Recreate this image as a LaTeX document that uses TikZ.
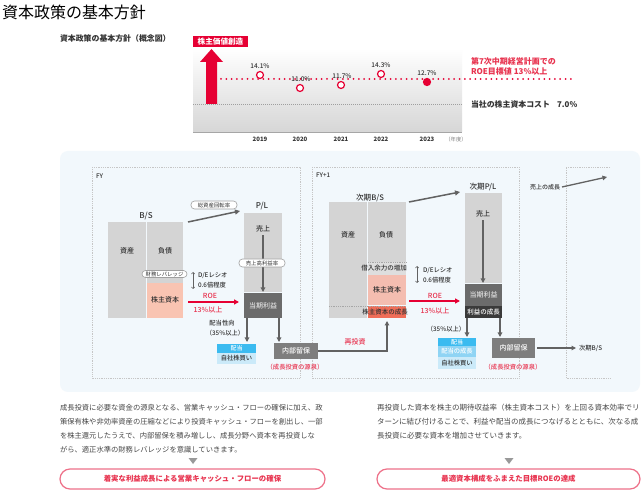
\documentclass[tikz,border=0pt]{standalone}
\usepackage{fontspec}
\setmainfont{Noto Sans CJK JP}
\newfontfamily\medfont{Noto Sans CJK JP Medium}
\usetikzlibrary{arrows.meta,calc}
\newcommand{\fsz}[1]{\fontsize{#1}{#1}\selectfont}
\definecolor{panel}{HTML}{F2F8FC}
\definecolor{bgray}{HTML}{D4D4D4}
\definecolor{lgray}{HTML}{DEDEDE}
\definecolor{dgray}{HTML}{6B6B6B}
\definecolor{mgray}{HTML}{7E7E7E}
\definecolor{blk}{HTML}{3A3A3A}
\definecolor{salmon}{HTML}{F9C4B2}
\definecolor{salmontwo}{HTML}{F4BDB0}
\definecolor{coral}{HTML}{EF6D58}
\definecolor{blueone}{HTML}{3BBBF0}
\definecolor{bluetwo}{HTML}{8FD4F4}
\definecolor{bluethree}{HTML}{CBEAF9}
\definecolor{redone}{HTML}{E60033}
\definecolor{redtxt}{HTML}{E8334F}
\definecolor{agray}{HTML}{626262}
\definecolor{txt}{HTML}{333333}
\definecolor{pinkb}{HTML}{EE7189}
\begin{document}
\begin{tikzpicture}[x=1pt,y=-1pt,
  every node/.style={inner sep=0pt,outer sep=0pt},
  blk/.style={rectangle,draw=none,minimum width=#1},
  tx/.style={font=\medfont\fsz{7},text=txt},
  sm/.style={font=\medfont\fsz{6.3},text=txt},
  pill/.style={draw=gray!75,fill=white,rounded corners=3.5pt,line width=0.6pt,font=\fsz{5.4},text=txt},
  garrow/.style={draw=agray,line width=1.4pt,-{Triangle[length=4.5pt,width=4.5pt]}},
  rarrow/.style={draw=redone,line width=1.3pt,-{Triangle[length=5pt,width=5pt]}},
  dearrow/.style={draw=agray,line width=0.6pt,{Straight Barb[length=1.6pt,width=3.2pt]}-{Straight Barb[length=1.6pt,width=3.2pt]}},
  dotbox/.style={draw=gray!45,line width=0.8pt,dash pattern=on 0.8pt off 1pt},
  dotsep/.style={draw=gray!70,line width=0.6pt,dash pattern=on 0.8pt off 1pt},
  pt/.style={circle,draw=redone,line width=1.2pt,fill=white,minimum size=7pt},
  pct/.style={font=\medfont\fsz{6.5},text=txt},
  yr/.style={font=\bfseries\fsz{6},text=txt},
  para/.style={anchor=west,font=\fsz{7.3},text=txt!90},
  redlbl/.style={font=\medfont\fsz{6.3},text=redtxt},
  outcome/.style={draw=pinkb,line width=1.2pt,fill=white,rounded corners=10pt,minimum width=265pt,minimum height=20pt,font=\bfseries\fsz{7.4},text=redtxt}
]
\useasboundingbox (0,0) rectangle (643,494);
\fill[white] (0,0) rectangle (643,494);

% ---------- title ----------
\node[anchor=west,font=\fsz{16},text=black] (title) at (2,12) {資本政策の基本方針};
\node[anchor=west,font=\bfseries\fsz{7.9},text=txt] (sub) at (60,39) {資本政策の基本方針（概念図）};

% ---------- chart ----------
\fill[top color=white,bottom color=gray!32] (193,48) rectangle (462,132);
\draw[gray!70,line width=0.8pt] (193,132) -- (462,132);
\draw[gray!75,line width=0.7pt,dash pattern=on 0.8pt off 1.2pt] (193,104) -- (462,104);
\draw[redone,line width=2pt,line cap=round,dash pattern=on 0pt off 5.3pt] (221,79) -- (575,79);
\fill[redone] (206,104) -- (206,62) -- (200,62) -- (211.5,49) -- (223,62) -- (217,62) -- (217,104) -- cycle;
\node[fill=redone,minimum width=55pt,minimum height=11pt,font=\bfseries\fsz{7.6},text=white] (value) at (220.5,41.5) {株主価値創造};

\node[pt] (p19) at (260,75) {};
\node[pt] (p20) at (300,88) {};
\node[pt] (p21) at (341,85) {};
\node[pt] (p22) at (381,74) {};
\node[pt,fill=redone] (p23) at (427,82) {};
\node[pct] (l19) at (260,66.5) {14.1\%};
\node[pct] (l20) at (301,79.5) {11.0\%};
\node[pct] (l21) at (342,76.5) {11.7\%};
\node[pct] (l22) at (381,65.5) {14.3\%};
\node[pct] (l23) at (427,73.5) {12.7\%};
\node[yr] (y19) at (260,139) {2019};
\node[yr] (y20) at (300,139) {2020};
\node[yr] (y21) at (341,139) {2021};
\node[yr] (y22) at (381,139) {2022};
\node[yr] (y23) at (427,139) {2023};
\node[font=\fsz{5.3},text=gray] (nendo) at (456,139) {（年度）};
\node[anchor=west,font=\bfseries\fsz{8},text=redtxt] (tgt1) at (471,61) {第7次中期経営計画での};
\node[anchor=west,font=\bfseries\fsz{8},text=redtxt] (tgt2) at (471,71.5) {ROE目標値 13\%以上};
\node[anchor=west,font=\bfseries\fsz{7.9},text=txt] (coe) at (471,104) {当社の株主資本コスト\hspace{0.9em}7.0\%};

% ---------- panel ----------
\fill[panel,rounded corners=8pt] (60,151) rectangle (640,392);
\draw[dotbox] (92,167) rectangle (300,378);
\draw[dotbox] (312,167) rectangle (519,378);
\draw[dotbox] (610,167) -- (566,167) -- (566,378) -- (610,378);

% ---------- FY ----------
\node[anchor=west,font=\medfont\fsz{6.3},text=txt] (fy) at (96,176) {FY};
\node[font=\medfont\fsz{8},text=txt] (bs1) at (146,216) {B/S};
\node[blk=38pt,minimum height=96pt,fill=bgray] (asset1) at (127,270) {};
\node[blk=36pt,minimum height=61pt,fill=bgray] (liab1) at (165,252.5) {};
\node[blk=36pt,minimum height=35pt,fill=salmon] (eq1) at (165,300.5) {};
\node[tx] (ta1) at (127,251) {資産};
\node[tx] (tl1) at (165,251) {負債};
\node[tx] (te1) at (165,300) {株主資本};
\node[pill,minimum width=45pt,minimum height=7pt] (lev1) at (164.5,274) {財務レバレッジ};
\coordinate (de1a) at (193,272);
\coordinate (de1b) at (193,289);
\draw[dearrow] (de1a) -- (de1b);
\node[anchor=west,sm] (de1) at (198,276) {D/Eレシオ};
\node[anchor=west,sm] (dx1) at (198,285) {0.6倍程度};

\node[font=\medfont\fsz{8},text=txt] (plt1) at (262,206) {P/L};
\node[blk=38pt,minimum height=79pt,fill=bgray] (pl1) at (263,252.5) {};
\node[blk=38pt,minimum height=25pt,fill=dgray] (ni1) at (263,305.5) {};
\node[font=\medfont\fsz{7},text=gray!25] (tni1) at (263,305.5) {当期利益};
\node[tx] (sales1) at (263,229) {売上};
\draw[garrow,shorten <=3pt,shorten >=1pt] (sales1.south) -- (sales1.south |- ni1.north);
\node[pill,minimum width=46pt,minimum height=8pt] (mar1) at (262,263) {売上高利益率};

\draw[draw=agray,line width=1.5pt,-{Triangle[length=5pt,width=5pt]}] ([xshift=5pt]liab1.north east) -- ([shift={(-4,-2)}]pl1.north west);
\node[pill,minimum width=46pt,minimum height=8pt] (tat1) at (214,205) {総資産回転率};

\coordinate (roe1s) at (188,302);
\coordinate (roe1e) at (239,302);
\draw[rarrow] (roe1s) -- (roe1e);
\node[font=\medfont\fsz{7},text=redtxt] (roe1) at (210,296) {ROE};
\node[font=\medfont\fsz{7},text=redtxt] (roex1) at (208,310) {13\%以上};

\node[blk=39pt,minimum height=9pt,fill=blueone,font=\medfont\fsz{6},text=white] (div1) at (236.5,348.5) {配当};
\node[blk=39pt,minimum height=11pt,fill=bluethree,font=\medfont\fsz{6.3},text=txt] (buy1) at (236.5,358.5) {自社株買い};
\node[blk=44pt,minimum height=16pt,fill=mgray,font=\medfont\fsz{7},text=white] (ret1) at (296,351) {内部留保};
\draw[garrow] ([xshift=3pt]ni1.south west) -- ([xshift=3pt,yshift=2pt]ni1.south west |- div1.north);
\draw[garrow] ([xshift=-3pt]ni1.south east) -- ([xshift=-3pt,yshift=1pt]ni1.south east |- ret1.north);
\node[sm] (po1) at (222,323) {配当性向};
\node[sm] (po1b) at (225,333) {（35\%以上）};
\node[redlbl] (src1) at (295,367) {（成長投資の源泉）};

% ---------- FY+1 ----------
\node[anchor=west,font=\medfont\fsz{6.3},text=txt] (fy1) at (316,175) {FY+1};
\node[font=\medfont\fsz{7.6},text=txt] (bs2) at (370,198) {次期B/S};
\node[blk=38pt,minimum height=116pt,fill=bgray] (asset2) at (348,260) {};
\node[blk=38pt,minimum height=60pt,fill=bgray] (liab2) at (387,232) {};
\node[blk=38pt,minimum height=13pt,fill=lgray] (bor2) at (387,268.5) {};
\node[blk=38pt,minimum height=30pt,fill=salmontwo] (eq2) at (387,290) {};
\node[blk=38pt,minimum height=12pt,fill=coral] (eqg2) at (387,312) {};
\draw[dotsep] (bor2.north west) -- (bor2.north east);
\draw[dotsep] (asset2.west |- eqg2.north) -- (eqg2.north east);
\node[tx] (ta2) at (348,235) {資産};
\node[tx] (tl2) at (386,235) {負債};
\node[font=\medfont\fsz{6.5},text=txt] (tb2) at (384,268) {借入余力の増加};
\node[tx] (te2) at (387,290) {株主資本};
\node[font=\medfont\fsz{6.5},text=txt] (tg2) at (385,312) {株主資本の成長};
\coordinate (de2a) at (417,266);
\coordinate (de2b) at (417,283);
\draw[dearrow] (de2a) -- (de2b);
\node[anchor=west,sm] (de2) at (423,271) {D/Eレシオ};
\node[anchor=west,sm] (dx2) at (423,280) {0.6倍程度};

\node[font=\medfont\fsz{7.6},text=txt] (plt2) at (483,187) {次期P/L};
\node[blk=37pt,minimum height=90pt,fill=bgray] (pl2) at (483.5,238) {};
\node[blk=37pt,minimum height=22pt,fill=dgray] (ni2) at (483.5,295) {};
\node[blk=37pt,minimum height=12pt,fill=blk] (ng2) at (483.5,312) {};
\node[font=\medfont\fsz{7},text=gray!25] (tni2) at (483.5,295) {当期利益};
\node[font=\medfont\fsz{6.5},text=white] (tng2) at (483.5,312) {利益の成長};
\node[tx] (sales2) at (483,214) {売上};
\draw[garrow,shorten <=3pt,shorten >=1pt] (sales2.south) -- (sales2.south |- ni2.north);

\draw[draw=agray,line width=1.5pt,-{Triangle[length=5pt,width=5pt]}] ([xshift=3pt]liab2.north east) -- ([shift={(-5,-1)}]pl2.north west);

\coordinate (roe2s) at (409,301);
\coordinate (roe2e) at (460,301);
\draw[rarrow] (roe2s) -- (roe2e);
\node[font=\medfont\fsz{7},text=redtxt] (roe2) at (435,296) {ROE};
\node[font=\medfont\fsz{7},text=redtxt] (roex2) at (435,310.5) {13\%以上};

\node[blk=38pt,minimum height=8pt,fill=blueone,font=\medfont\fsz{6},text=white] (div2) at (457,342) {配当};
\node[blk=38pt,minimum height=11pt,fill=bluetwo,font=\medfont\fsz{6.3},text=white] (divg2) at (457,351.5) {配当の成長};
\node[blk=38pt,minimum height=12pt,fill=bluethree,font=\medfont\fsz{6.3},text=txt] (buy2) at (457,363) {自社株買い};
\node[blk=43pt,minimum height=20pt,fill=mgray,font=\medfont\fsz{7},text=white] (ret2) at (513.5,348) {内部留保};
\draw[garrow] ([xshift=2pt]ng2.south west) -- ([xshift=2pt,yshift=1pt]ng2.south west |- div2.north);
\draw[garrow] ([xshift=-2pt]ng2.south east) -- ([xshift=-2pt,yshift=1pt]ng2.south east |- ret2.north);
\node[sm] (po2) at (446,329) {（35\%以上）};
\node[redlbl] (src2) at (513,367) {（成長投資の源泉）};

% reinvestment
\draw[garrow,shorten >=3pt] (ret1.east) -| (eqg2.south);
\node[font=\medfont\fsz{7},text=redtxt] (reinv) at (355,342) {再投資};

% next
\node[anchor=west,sm] (nbs) at (579,348) {次期B/S};
\draw[garrow,shorten <=2pt,shorten >=3pt] (ret2.east) -- (nbs.west);
\node[font=\medfont\fsz{6},text=txt] (sg) at (545,187) {売上の成長};
\coordinate (sgend) at (607,177);
\draw[draw=agray,line width=1.3pt,-{Triangle[length=4.5pt,width=4.5pt]}] ([xshift=2pt]sg.east) -- (sgend);

% ---------- bottom texts ----------
\node[para] (a1) at (60,408) {成長投資に必要な資金の源泉となる、営業キャッシュ・フローの確保に加え、政};
\node[para] (a2) at (60,422) {策保有株や非効率資産の圧縮などにより投資キャッシュ・フローを創出し、一部};
\node[para] (a3) at (60,436) {を株主還元したうえで、内部留保を積み増しし、成長分野へ資本を再投資しな};
\node[para] (a4) at (60,449.5) {がら、適正水準の財務レバレッジを意識していきます。};
\fill[gray!80] (188.5,458) -- (197.5,458) -- (193,464) -- cycle;
\node[outcome] (o1) at (192.5,479) {着実な利益成長による営業キャッシュ・フローの確保};

\node[para,font=\fsz{7.5}] (b1) at (377,408) {再投資した資本を株主の期待収益率（株主資本コスト）を上回る資本効率でリ};
\node[para,font=\fsz{7.5}] (b2) at (377,422) {ターンに結び付けることで、利益や配当の成長につなげるとともに、次なる成};
\node[para,font=\fsz{7.5}] (b3) at (377,436) {長投資に必要な資本を増加させていきます。};
\fill[gray!80] (504.5,458) -- (513.5,458) -- (509,464) -- cycle;
\node[outcome,minimum width=263pt] (o2) at (508.5,479) {最適資本構成をふまえた目標ROEの達成};
\end{tikzpicture}
\end{document}
